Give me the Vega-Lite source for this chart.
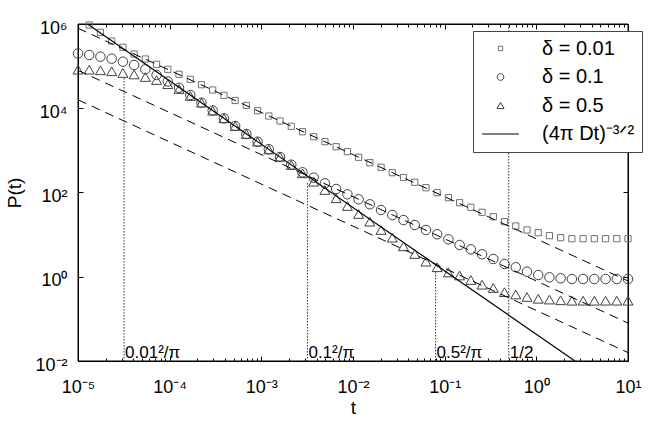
{
  "$schema": "https://vega.github.io/schema/vega-lite/v6.json",
  "width": 550,
  "height": 337,
  "autosize": {"type": "none"},
  "padding": {"left": 78, "top": 24, "right": 23, "bottom": 62},
  "config": {
    "view": {"stroke": null},
    "font": "Liberation Sans",
    "axis": {"grid": false, "domain": true, "domainColor": "black", "domainWidth": 1, "tickColor": "black", "tickWidth": 1, "labelColor": "black", "titleColor": "black", "labelFont": "Liberation Sans", "titleFont": "Liberation Sans", "labelFontSize": 18, "titleFontSize": 19, "titleFontWeight": "normal"}
  },
  "datasets": {
    "pts": [
      {"t": 0.00001, "b": 200000, "c": 82300},
      {"t": 0.000013257, "a": 947000, "b": 183700, "c": 82300},
      {"t": 0.000017575, "a": 635000, "b": 167400, "c": 79600},
      {"t": 0.0000233, "a": 395000, "b": 150000, "c": 75400},
      {"t": 0.000030888, "a": 280000, "b": 127400, "c": 68700},
      {"t": 0.000040949, "a": 194000, "b": 106400, "c": 63300},
      {"t": 0.000054287, "a": 147600, "b": 84000, "c": 55200},
      {"t": 0.000071969, "a": 110400, "b": 61600, "c": 46800},
      {"t": 0.00009541, "a": 84100, "b": 43200, "c": 37200},
      {"t": 0.00012649, "a": 64000, "b": 30600, "c": 28600},
      {"t": 0.00016768, "a": 48700, "b": 20600, "c": 19540},
      {"t": 0.0002223, "a": 36200, "b": 13550, "c": 13550},
      {"t": 0.00029471, "a": 27100, "b": 8840, "c": 8750},
      {"t": 0.00039069, "a": 20300, "b": 5770, "c": 5770},
      {"t": 0.00051795, "a": 15270, "b": 3790, "c": 3790},
      {"t": 0.00068665, "a": 11620, "b": 2450, "c": 2450},
      {"t": 0.0009103, "a": 8740, "b": 1607, "c": 1607},
      {"t": 0.0012068, "a": 6550, "b": 1066, "c": 1049},
      {"t": 0.0015999, "a": 4980, "b": 696, "c": 708},
      {"t": 0.002121, "a": 3730, "b": 457, "c": 450},
      {"t": 0.0028118, "a": 2770, "b": 302, "c": 286},
      {"t": 0.0037276, "a": 2110, "b": 225, "c": 180.5},
      {"t": 0.0049417, "a": 1607, "b": 165.3, "c": 114.6},
      {"t": 0.0065513, "a": 1222, "b": 121.1, "c": 72.8},
      {"t": 0.0086851, "a": 931, "b": 90.6, "c": 47.8},
      {"t": 0.011514, "a": 685, "b": 69.0, "c": 30.9},
      {"t": 0.015264, "a": 510, "b": 52.5, "c": 20.3},
      {"t": 0.020236, "a": 397, "b": 38.4, "c": 12.9},
      {"t": 0.026827, "a": 295, "b": 29.2, "c": 8.45},
      {"t": 0.035565, "a": 227, "b": 22.2, "c": 5.28},
      {"t": 0.047149, "a": 175, "b": 16.9, "c": 3.47},
      {"t": 0.062506, "a": 130, "b": 12.9, "c": 2.28},
      {"t": 0.082864, "a": 98.9, "b": 10.2, "c": 1.68},
      {"t": 0.10985, "a": 75.3, "b": 7.74, "c": 1.262},
      {"t": 0.14563, "a": 57.3, "b": 5.67, "c": 1.071},
      {"t": 0.19307, "a": 44.6, "b": 4.48, "c": 0.837},
      {"t": 0.25595, "a": 33.9, "b": 3.41, "c": 0.648},
      {"t": 0.33932, "a": 26.7, "b": 2.64, "c": 0.541},
      {"t": 0.44984, "a": 20.3, "b": 2.01, "c": 0.43},
      {"t": 0.59636, "a": 16.0, "b": 1.68, "c": 0.379},
      {"t": 0.7906, "a": 12.9, "b": 1.318, "c": 0.331},
      {"t": 1.0481, "a": 11.1, "b": 1.1, "c": 0.3},
      {"t": 1.3895, "a": 9.44, "b": 0.97, "c": 0.287},
      {"t": 1.8421, "a": 8.46, "b": 0.919, "c": 0.276},
      {"t": 2.4421, "a": 8.0, "b": 0.884, "c": 0.27},
      {"t": 3.2375, "a": 8.0, "b": 0.884, "c": 0.27},
      {"t": 4.2919, "a": 8.0, "b": 0.884, "c": 0.27},
      {"t": 5.6899, "a": 8.0, "b": 0.884, "c": 0.27},
      {"t": 7.5431, "a": 8.0, "b": 0.884, "c": 0.27},
      {"t": 10, "a": 8.0, "b": 0.884, "c": 0.27}
    ],
    "dash": [
      {"g": 1, "t": 0.00001, "P": 794000},
      {"g": 1, "t": 10, "P": 0.794},
      {"g": 2, "t": 0.00001, "P": 79400},
      {"g": 2, "t": 10, "P": 0.0794},
      {"g": 3, "t": 0.00001, "P": 15850},
      {"g": 3, "t": 10, "P": 0.01585}
    ],
    "solid": [
      {"t": 0.00001, "P": 1430000},
      {"t": 2.64, "P": 0.01}
    ],
    "vlines": [
      {"t": 0.00003183, "top": 52000},
      {"t": 0.003183, "top": 168},
      {"t": 0.07958, "top": 1.3},
      {"t": 0.5, "top": 1000000}
    ],
    "notes": [
      {"t": 0.00003183, "label": "0.01²/π"},
      {"t": 0.003183, "label": "0.1²/π"},
      {"t": 0.07958, "label": "0.5²/π"},
      {"t": 0.5, "label": "1/2"}
    ],
    "frame": [
      {"t1": 0.00001, "t2": 10, "p1": 0.01, "p2": 1000000}
    ]
  },
  "layer": [
    {
      "data": {"name": "frame"},
      "mark": {"type": "rect", "filled": false, "stroke": "black", "strokeWidth": 1},
      "encoding": {
        "x": {"field": "t1", "type": "quantitative", "scale": {"type": "log", "domain": [0.00001, 10], "nice": false},
          "axis": {
            "orient": "top",
            "values": [0.00001,0.00002,0.00003,0.00004,0.00005,0.00006,0.00007,0.00008,0.00009,0.0001,0.0002,0.0003,0.0004,0.0005,0.0006,0.0007,0.0008,0.0009,0.001,0.002,0.003,0.004,0.005,0.006,0.007,0.008,0.009,0.01,0.02,0.03,0.04,0.05,0.06,0.07,0.08,0.09,0.1,0.2,0.3,0.4,0.5,0.6,0.7,0.8,0.9,1,2,3,4,5,6,7,8,9,10],
            "tickSize": {"condition": {"test": "abs(log(datum.value)/LN10 - round(log(datum.value)/LN10)) < 0.001", "value": -5}, "value": -3},
            "labels": false,
            "title": null
          }},
        "x2": {"field": "t2"},
        "y": {"field": "p1", "type": "quantitative", "scale": {"type": "log", "domain": [0.01, 1000000], "nice": false},
          "axis": {"orient": "right", "values": [0.01, 1, 100, 10000, 1000000], "tickSize": -5, "labels": false, "title": null}},
        "y2": {"field": "p2"}
      }
    },
    {
      "data": {"name": "pts"},
      "transform": [
        {"fold": ["a", "b", "c"], "as": ["s", "P"]},
        {"filter": "isValid(datum.P)"}
      ],
      "mark": {"type": "point", "filled": false, "strokeWidth": 1, "size": 100, "opacity": 1},
      "encoding": {
        "x": {
          "field": "t", "type": "quantitative",
          "scale": {"type": "log", "domain": [0.00001, 10], "nice": false},
          "axis": {
            "orient": "bottom",
            "values": [0.00001,0.00002,0.00003,0.00004,0.00005,0.00006,0.00007,0.00008,0.00009,0.0001,0.0002,0.0003,0.0004,0.0005,0.0006,0.0007,0.0008,0.0009,0.001,0.002,0.003,0.004,0.005,0.006,0.007,0.008,0.009,0.01,0.02,0.03,0.04,0.05,0.06,0.07,0.08,0.09,0.1,0.2,0.3,0.4,0.5,0.6,0.7,0.8,0.9,1,2,3,4,5,6,7,8,9,10],
            "labelExpr": "abs(log(datum.value)/LN10 - round(log(datum.value)/LN10)) < 0.001 ? '10' + ['⁻⁵','⁻⁴','⁻³','⁻²','⁻¹','⁰','¹'][round(log(datum.value)/LN10)+5] : ''",
            "tickSize": {"condition": {"test": "abs(log(datum.value)/LN10 - round(log(datum.value)/LN10)) < 0.001", "value": -5}, "value": -3},
            "labelPadding": 36,
            "labelBaseline": "alphabetic",
            "labelFlush": false,
            "labelOverlap": false,
            "title": "t",
            "titleY": 52,
            "titleBaseline": "alphabetic"
          }
        },
        "y": {
          "field": "P", "type": "quantitative",
          "scale": {"type": "log", "domain": [0.01, 1000000], "nice": false},
          "axis": {
            "orient": "left",
            "values": [0.01, 1, 100, 10000, 1000000],
            "labelExpr": "'10' + ['⁻²','⁻¹','⁰','¹','²','³','⁴','⁵','⁶'][round(log(datum.value)/LN10)+2]",
            "tickSize": -5,
            "labelPadding": 16,
            "labelBaseline": "alphabetic",
            "labelOffset": 9,
            "labelOverlap": false,
            "title": "P(t)",
            "titleX": -64,
            "titleY": 168.5,
            "titleAngle": -90,
            "titleAlign": "center",
            "titleBaseline": "middle"
          }
        },
        "shape": {
          "field": "s", "type": "nominal",
          "scale": {"domain": ["a", "b", "c", "f"], "range": ["M-0.62,-0.62H0.62V0.62H-0.62Z", "M0.95,0A0.95,0.95,0,1,1,-0.95,0A0.95,0.95,0,1,1,0.95,0Z", "M0,-0.87L1,0.87L-1,0.87Z", "M-5.2,0L5.2,0"]},
          "legend": {"title": null, "orient": "none", "legendX": 395, "legendY": 7, "padding": 7.5, "strokeColor": "#444", "fillColor": "white", "symbolSize": 50, "symbolStrokeWidth": 1, "symbolOffset": 10, "labelOffset": 31.5, "labelFontSize": 20, "labelFont": "Liberation Sans", "labelColor": "black", "rowPadding": 8.5, "labelLimit": 300, "labelExpr": "datum.label == 'a' ? 'δ = 0.01' : datum.label == 'b' ? 'δ = 0.1' : datum.label == 'c' ? 'δ = 0.5' : '(4π Dt)⁻³ᐟ²'"}
        },
        "stroke": {
          "field": "s", "type": "nominal",
          "scale": {"domain": ["a", "b", "c", "f"], "range": ["#707070", "#404040", "#404040", "#000000"]},
          "legend": {"title": null, "orient": "none", "legendX": 395, "legendY": 7, "padding": 7.5, "strokeColor": "#444", "fillColor": "white", "symbolSize": 50, "symbolStrokeWidth": 1, "symbolOffset": 10, "labelOffset": 31.5, "labelFontSize": 20, "labelFont": "Liberation Sans", "labelColor": "black", "rowPadding": 8.5, "labelLimit": 300, "labelExpr": "datum.label == 'a' ? 'δ = 0.01' : datum.label == 'b' ? 'δ = 0.1' : datum.label == 'c' ? 'δ = 0.5' : '(4π Dt)⁻³ᐟ²'"}
        }
      }
    },
    {
      "data": {"name": "dash"},
      "mark": {"type": "line", "color": "black", "strokeWidth": 1, "strokeDash": [9, 6], "clip": true},
      "encoding": {
        "x": {"field": "t", "type": "quantitative", "scale": {"type": "log", "domain": [0.00001, 10], "nice": false}, "axis": null},
        "y": {"field": "P", "type": "quantitative", "scale": {"type": "log", "domain": [0.01, 1000000], "nice": false}, "axis": null},
        "detail": {"field": "g", "type": "nominal"}
      }
    },
    {
      "data": {"name": "solid"},
      "mark": {"type": "line", "color": "black", "strokeWidth": 1.2, "clip": true},
      "encoding": {
        "x": {"field": "t", "type": "quantitative", "scale": {"type": "log", "domain": [0.00001, 10], "nice": false}, "axis": null},
        "y": {"field": "P", "type": "quantitative", "scale": {"type": "log", "domain": [0.01, 1000000], "nice": false}, "axis": null}
      }
    },
    {
      "data": {"name": "vlines"},
      "mark": {"type": "rule", "color": "#333", "strokeWidth": 1, "strokeDash": [1.5, 1.5]},
      "encoding": {
        "x": {"field": "t", "type": "quantitative", "scale": {"type": "log", "domain": [0.00001, 10], "nice": false}, "axis": null},
        "y": {"field": "top", "type": "quantitative", "scale": {"type": "log", "domain": [0.01, 1000000], "nice": false}, "axis": null},
        "y2": {"datum": 0.01}
      }
    },
    {
      "data": {"name": "notes"},
      "mark": {"type": "text", "align": "left", "baseline": "alphabetic", "dx": 1, "dy": -3, "fontSize": 17, "font": "Liberation Sans", "color": "black"},
      "encoding": {
        "x": {"field": "t", "type": "quantitative", "scale": {"type": "log", "domain": [0.00001, 10], "nice": false}, "axis": null},
        "y": {"datum": 0.01, "type": "quantitative", "scale": {"type": "log", "domain": [0.01, 1000000], "nice": false}, "axis": null},
        "text": {"field": "label"}
      }
    }
  ],
  "resolve": {"axis": {"x": "independent", "y": "independent"}}
}
